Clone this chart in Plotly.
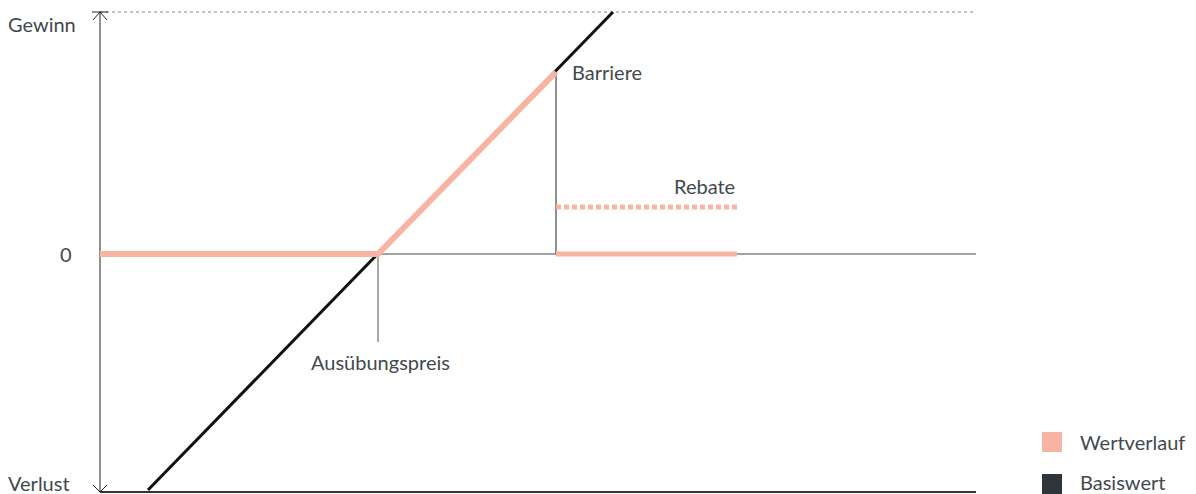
import plotly.graph_objects as go

# units: x = price axis, y = profit/loss (0 = break-even line)
underlying_x = [48, 513]
underlying_y = [-236, 242]

payoff_x = [0, 278, 456]
payoff_y = [0, 0, 182]

knockout_x = [456, 637]
knockout_y = [0, 0]

rebate_x = [456, 637]
rebate_y = [47, 47]

strike = 278
barrier = 456
barrier_level = 182
x_end = 876
y_top, y_bottom = 242, -238

y_labels = ["Gewinn", "0", "Verlust"]
legend_names = ["Wertverlauf", "Basiswert"]

SALMON = "#f8b4a2"
DARK = "#2f3639"
TEXT = "#42494e"
FONT = "Lato"
legend_colors = [SALMON, DARK]

fig = go.Figure()

# helper lines
below = dict(layer="below")
fig.add_shape(type="line", x0=0, x1=x_end, y0=0, y1=0, line=dict(color="#444", width=1), **below)
fig.add_shape(type="line", x0=0, x1=x_end, y0=y_top, y1=y_top, line=dict(color="#888", width=1, dash="dot"), **below)
fig.add_shape(type="line", x0=0, x1=x_end, y0=y_bottom, y1=y_bottom, line=dict(color="#333", width=2), **below)
fig.add_shape(type="line", x0=0, x1=0, y0=y_bottom, y1=y_top, line=dict(color="#222", width=1), **below)
fig.add_shape(type="line", x0=strike, x1=strike, y0=0, y1=-88, line=dict(color="#555", width=1), **below)
fig.add_shape(type="line", x0=barrier, x1=barrier, y0=0, y1=barrier_level, line=dict(color="#222", width=1), **below)
# arrow heads on the y axis
fig.add_shape(type="path", path=f"M -8 {y_top} L 8 {y_top} M -7 {y_top-8} L 0 {y_top} L 7 {y_top-8}",
              line=dict(color="#222", width=1))
fig.add_shape(type="path", path=f"M -7 {y_bottom+7} L 0 {y_bottom} L 7 {y_bottom+7}",
              line=dict(color="#222", width=1))

fig.add_trace(go.Scatter(x=underlying_x, y=underlying_y, mode="lines", name="Basiswert",
                         line=dict(color="#111", width=3), showlegend=False, hoverinfo="skip"))
fig.add_trace(go.Scatter(x=payoff_x, y=payoff_y, mode="lines", name="Wertverlauf",
                         line=dict(color=SALMON, width=6), showlegend=False, hoverinfo="skip"))
fig.add_trace(go.Scatter(x=knockout_x, y=knockout_y, mode="lines",
                         line=dict(color=SALMON, width=5), showlegend=False, hoverinfo="skip"))
fig.add_trace(go.Scatter(x=rebate_x, y=rebate_y, mode="lines",
                         line=dict(color=SALMON, width=5, dash="5px,3px"), showlegend=False, hoverinfo="skip"))

# legend (square swatches + text)
for i, (name, col) in enumerate(zip(legend_names, legend_colors)):
    yc = -188 - 42 * i
    fig.add_shape(type="rect", x0=942, x1=962, y0=yc - 10, y1=yc + 10,
                  fillcolor=col, line=dict(width=0))
    fig.add_annotation(x=978, y=yc + 2 * i, text=name, showarrow=False, xanchor="left", yanchor="middle")

fig.add_annotation(x=strike + 2, y=-108, text="Ausübungspreis", showarrow=False,
                   xanchor="center", yanchor="middle")
fig.add_annotation(x=barrier + 14, y=barrier_level, text="Barriere", showarrow=False,
                   xanchor="left", yanchor="middle")
fig.add_annotation(x=637, y=68, text="Rebate", showarrow=False,
                   xanchor="right", yanchor="middle")

fig.add_annotation(x=-94, y=230, text=y_labels[0], showarrow=False, xanchor="left", yanchor="middle")
fig.add_annotation(x=-26, y=0, text=y_labels[1], showarrow=False, xanchor="right", yanchor="middle")
fig.add_annotation(x=-94, y=-229, text=y_labels[2], showarrow=False, xanchor="left", yanchor="middle")

fig.update_layout(
    width=1196, height=494,
    margin=dict(l=0, r=0, t=0, b=0),
    plot_bgcolor="white", paper_bgcolor="white",
    font=dict(family=FONT, size=20, color=TEXT),
    xaxis=dict(range=[-100, 1096], visible=False, fixedrange=True),
    yaxis=dict(range=[-240, 254], visible=False, fixedrange=True),
    showlegend=False,
)

fig.write_html("out.html", config={"displayModeBar": False},
               post_script="document.body.style.margin='0';")
